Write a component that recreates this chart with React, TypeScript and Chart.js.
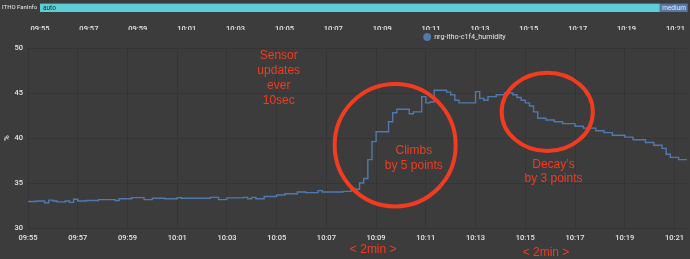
import React, { useEffect, useRef } from "react";
import { Chart, registerables } from "chart.js";

Chart.register(...registerables);

// ---------- data ----------
const RANGE_START = "09:55:00";
const RANGE_END = "10:21:30";
const TICK_STEP_SECONDS = 120;

const SERIES_LABEL = "nrg-itho-c1f4_humidity";
const Y_UNIT = "%";
const Y_MIN = 30;
const Y_MAX = 50;
const Y_STEP = 5;

const SAMPLE_TIMES = [
  "09:55:00", "09:55:20", "09:55:40", "09:55:50", "09:56:00", "09:56:10", "09:56:30", "09:56:40",
  "09:56:50", "09:57:00", "09:57:20", "09:57:50", "09:58:30", "09:58:40", "09:59:10", "09:59:40",
  "10:00:00", "10:00:30", "10:01:00", "10:01:10", "10:01:30", "10:02:20", "10:02:40", "10:03:00",
  "10:03:40", "10:03:50", "10:04:00", "10:04:10", "10:04:30", "10:05:00", "10:05:20", "10:05:50",
  "10:06:10", "10:06:40", "10:06:50", "10:07:40", "10:08:00", "10:08:20", "10:08:30", "10:08:40",
  "10:08:50", "10:09:00", "10:09:30", "10:09:40", "10:09:50", "10:10:20", "10:10:30", "10:10:50",
  "10:11:00", "10:11:10", "10:11:20", "10:11:50", "10:12:00", "10:12:10", "10:12:20", "10:13:00",
  "10:13:10", "10:13:20", "10:13:30", "10:13:50", "10:14:10", "10:14:30", "10:14:40", "10:14:50",
  "10:15:00", "10:15:10", "10:15:20", "10:15:30", "10:15:50", "10:16:10", "10:16:30", "10:17:00",
  "10:17:20", "10:17:50", "10:18:10", "10:18:30", "10:19:00", "10:19:20", "10:19:50", "10:20:10",
  "10:20:30", "10:20:40", "10:20:50", "10:21:10", "10:21:30",
];

const HUMIDITY = [
  32.95, 33.0, 32.8, 33.1, 33.0, 32.9, 33.0, 32.85,
  33.2, 33.0, 33.05, 33.15, 33.05, 33.25, 33.37, 33.15,
  33.3, 33.25, 33.37, 33.3, 33.3, 33.4, 33.15, 33.35,
  33.4, 33.25, 33.4, 33.25, 33.5, 33.67, 33.8, 34.0,
  33.93, 34.15, 34.0, 34.07, 34.3, 35.0, 35.5, 37.6,
  39.6, 40.7, 41.8, 42.8, 43.2, 42.7, 42.9, 44.6,
  43.9, 44.0, 45.3, 45.1, 44.8, 44.2, 43.9, 45.15,
  44.4, 44.2, 44.6, 44.8, 45.0, 44.8, 44.5, 44.2,
  43.9, 43.55, 42.9, 42.2, 42.0, 41.8, 41.6, 41.3,
  41.1, 40.8, 40.6, 40.3, 40.1, 39.8, 39.5, 39.2,
  38.85, 38.2, 37.85, 37.6, 37.6,
];

const TIMELINE_ENTITY = "ITHO FanInfo";
const FAN_STATES = ["auto", "medium"];
const FAN_STATE_STARTS = ["09:55:00", "10:20:20"];

// hand-drawn notes (placed in data coordinates: time, value)
const NOTE_TEXTS = [
  { lines: ["Sensor", "updates", "ever", "10sec"], time: "10:05:05", value: 49.2, gap: 1.67 },
  { lines: ["Climbs", "by 5 points"], time: "10:10:31", value: 38.55, gap: 1.6 },
  { lines: ["Decay\u2019s", "by 3 points"], time: "10:16:08", value: 37.0, gap: 1.56 },
  { lines: ["< 2min >"], time: "10:08:53", value: 27.55, gap: 0 },
  { lines: ["< 2min >"], time: "10:15:50", value: 27.25, gap: 0 },
];
const NOTE_RINGS = [
  { time: "10:09:46", value: 39.2, rxSeconds: 146, ryValue: 6.8 },
  { time: "10:15:53", value: 42.9, rxSeconds: 110, ryValue: 4.35 },
];

// ---------- styles ----------
const BG = "#3c3c3c";
const GRID = "#353535";
const TEXT = "#e6e6e6";
const LINE = "#5079ad";
const RED = "#f03c21";
const STATE_COLORS = ["#5ccfd6", "#5578aa"];
const STATE_TEXT = ["#1f2a2b", "#e8eef6"];
const TICK_FONT = { family: "Roboto, 'DejaVu Sans', sans-serif", size: 7.5, weight: "500" };

const clock = (s: string) => {
  const [h, m, sec] = s.split(":").map(Number);
  return h * 3600 + m * 60 + (sec || 0);
};
const toSec = (s: string) => clock(s) - clock(RANGE_START);
const fmt = (v: number) => {
  const t = clock(RANGE_START) + Number(v);
  const h = Math.floor(t / 3600);
  const m = Math.floor((t % 3600) / 60);
  return `${String(h).padStart(2, "0")}:${String(m).padStart(2, "0")}`;
};
const stepTicks = (scale: any) => {
  const ticks: any[] = [];
  for (let v = scale.min; v <= scale.max; v += TICK_STEP_SECONDS) ticks.push({ value: v });
  scale.ticks = ticks;
};

const legendPlugin = {
  id: "customLegend",
  afterDraw(chart: any) {
    const ctx = chart.ctx;
    const ds = chart.data.datasets[0];
    ctx.save();
    ctx.font = `7.2px Roboto, 'DejaVu Sans', sans-serif`;
    const w = ctx.measureText(ds.label).width;
    const total = 8 + 3 + w;
    const cx = (chart.chartArea.left + chart.chartArea.right) / 2 + 107 - total / 2 + 4;
    const cy = 7;
    ctx.fillStyle = ds.borderColor;
    ctx.beginPath();
    ctx.arc(cx, cy, 3.9, 0, Math.PI * 2);
    ctx.fill();
    ctx.fillStyle = TEXT;
    ctx.textBaseline = "middle";
    ctx.textAlign = "left";
    ctx.fillText(ds.label, cx + 7, cy + 0.5);
    ctx.restore();
  },
};

const notesPlugin = {
  id: "notes",
  afterDraw(chart: any) {
    const ctx = chart.ctx;
    const xs = chart.scales.x;
    const ys = chart.scales.y;
    ctx.save();
    ctx.strokeStyle = RED;
    ctx.lineWidth = 4;
    NOTE_RINGS.forEach((r) => {
      const cx = xs.getPixelForValue(toSec(r.time));
      const cy = ys.getPixelForValue(r.value);
      const rx = xs.getPixelForValue(toSec(r.time) + r.rxSeconds) - cx;
      const ry = cy - ys.getPixelForValue(r.value + r.ryValue);
      ctx.beginPath();
      ctx.ellipse(cx, cy, rx, ry, 0, 0, Math.PI * 2);
      ctx.stroke();
    });
    ctx.fillStyle = RED;
    ctx.font = `12px 'Liberation Sans', Arial, sans-serif`;
    ctx.textAlign = "center";
    ctx.textBaseline = "middle";
    NOTE_TEXTS.forEach((n) => {
      const x = xs.getPixelForValue(toSec(n.time));
      n.lines.forEach((line, i) => {
        const y = ys.getPixelForValue(n.value - i * n.gap);
        ctx.fillText(line, x, y);
      });
    });
    ctx.restore();
  },
};

const barTextPlugin = {
  id: "barText",
  afterDatasetsDraw(chart: any) {
    const ctx = chart.ctx;
    ctx.save();
    ctx.font = `6.5px Roboto, 'DejaVu Sans', sans-serif`;
    ctx.textBaseline = "middle";
    ctx.textAlign = "left";
    chart.data.datasets.forEach((ds: any, i: number) => {
      const el = chart.getDatasetMeta(i).data[0];
      if (!el) return;
      const left = Math.min(el.x, el.base);
      ctx.fillStyle = STATE_TEXT[i];
      ctx.fillText(ds.label, left + 3, el.y + 0.5);
    });
    ctx.restore();
  },
};

export default function App() {
  const topRef = useRef<HTMLCanvasElement>(null);
  const mainRef = useRef<HTMLCanvasElement>(null);

  useEffect(() => {
    document.body.style.margin = "0";
    document.body.style.background = BG;
    const endSec = toSec(RANGE_END);

    const stateData = FAN_STATES.map((st, i) => ({
      label: st,
      data: [[toSec(FAN_STATE_STARTS[i]), i + 1 < FAN_STATES.length ? toSec(FAN_STATE_STARTS[i + 1]) : endSec]],
      backgroundColor: STATE_COLORS[i],
      borderWidth: 0,
      barPercentage: 1,
      categoryPercentage: 1,
      grouped: false,
    }));

    const top = new Chart(topRef.current!, {
      type: "bar",
      data: { labels: [TIMELINE_ENTITY], datasets: stateData as any },
      options: {
        indexAxis: "y",
        animation: false,
        responsive: false,
        maintainAspectRatio: false,
        layout: { padding: { top: 3, left: 2, right: 0, bottom: 0 } },
        plugins: { legend: { display: false }, tooltip: { enabled: false } },
        scales: {
          x: {
            type: "linear",
            min: 0,
            max: endSec,
            grid: { display: false },
            border: { display: false },
            ticks: {
              callback: (v: any) => fmt(v),
              color: TEXT,
              font: TICK_FONT,
              padding: 5,
              maxRotation: 0,
              autoSkip: false,
            },
            afterBuildTicks: stepTicks,
            afterFit: (s: any) => {
              s.height = 18;
            },
          },
          y: {
            grid: { display: false },
            border: { display: false },
            ticks: { color: TEXT, font: { family: TICK_FONT.family, size: 6 }, crossAlign: "far", padding: 0 },
            afterFit: (s: any) => {
              s.width = 38;
            },
          },
        },
      } as any,
      plugins: [barTextPlugin],
    });

    const main = new Chart(mainRef.current!, {
      type: "line",
      data: {
        datasets: [
          {
            label: SERIES_LABEL,
            data: SAMPLE_TIMES.map((t, i) => ({ x: toSec(t), y: HUMIDITY[i] })),
            borderColor: LINE,
            backgroundColor: LINE,
            borderWidth: 1.4,
            stepped: true,
            pointRadius: 0,
            fill: false,
          },
        ],
      },
      options: {
        animation: false,
        responsive: false,
        maintainAspectRatio: false,
        layout: { padding: { top: 18, left: 0, right: 0, bottom: 0 } },
        plugins: { legend: { display: false }, tooltip: { enabled: false } },
        scales: {
          x: {
            type: "linear",
            min: 0,
            max: endSec,
            grid: { color: GRID, drawTicks: false },
            border: { display: false },
            ticks: {
              callback: (v: any) => fmt(v),
              color: TEXT,
              font: TICK_FONT,
              padding: 6,
              maxRotation: 0,
              autoSkip: false,
            },
            afterBuildTicks: stepTicks,
            afterFit: (s: any) => {
              s.height = 31;
            },
          },
          y: {
            min: Y_MIN,
            max: Y_MAX,
            grid: { color: GRID, drawTicks: false },
            border: { display: false },
            ticks: { stepSize: Y_STEP, color: TEXT, font: TICK_FONT, padding: 5 },
            title: { display: true, text: Y_UNIT, color: TEXT, font: TICK_FONT, padding: 3 },
            afterFit: (s: any) => {
              s.width = 28;
            },
          },
        },
      } as any,
      plugins: [legendPlugin, notesPlugin],
    });

    return () => {
      top.destroy();
      main.destroy();
    };
  }, []);

  return (
    <div style={{ position: "relative", width: 690, height: 259, background: BG, overflow: "hidden" }}>
      <canvas ref={topRef} width={690} height={30} style={{ display: "block" }} />
      <canvas ref={mainRef} width={690} height={229} style={{ display: "block" }} />
    </div>
  );
}
